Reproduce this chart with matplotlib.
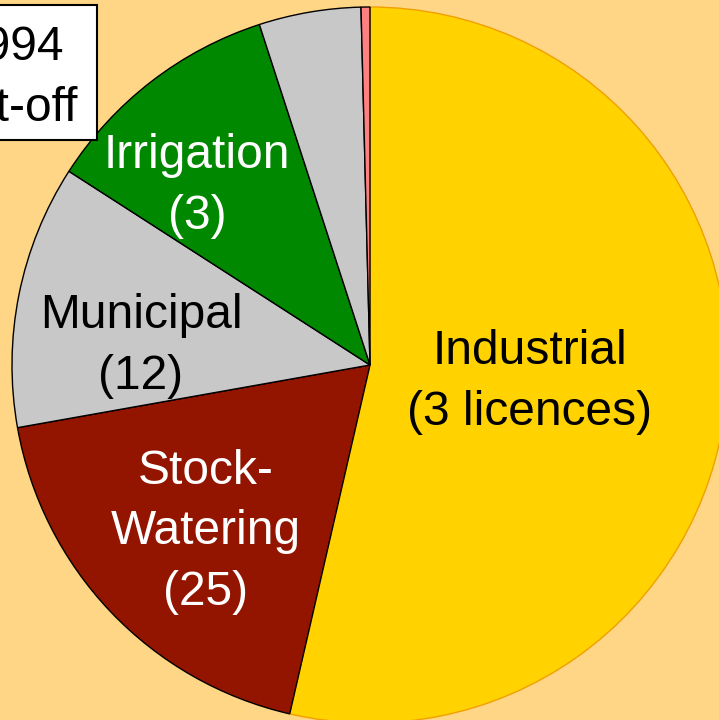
import matplotlib.pyplot as plt
from matplotlib.patches import Rectangle

plt.rcParams['font.family'] = ['Liberation Sans', 'DejaVu Sans']

# share of allocated volume (percent), clockwise from 12 o'clock
categories = ['Industrial', 'Stock-Watering', 'Municipal', 'Irrigation', 'Other', 'Minor']
shares = [53.6, 18.6, 11.9, 10.9, 4.6, 0.4]
labels = ['Industrial\n(3 licences)', 'Stock-\nWatering\n(25)', 'Municipal\n(12)',
          'Irrigation\n(3)', '', '']
colors = ['#FFD200', '#931500', '#C8C8C8', '#008800', '#C8C8C8', '#FF8080']
text_colors = ['black', 'white', 'black', 'white', 'black', 'black']
label_pos = [(530, 338), (206, 188), (141, 374), (197, 534), None, None]

bg = '#FFD685'
fig = plt.figure(figsize=(7.19, 7.2), dpi=100, facecolor=bg)
ax = fig.add_axes([0, 0, 1, 1])
ax.set_facecolor(bg)

wedges, _ = ax.pie(shares, colors=colors, startangle=90, counterclock=False,
                   center=(370, 355), radius=358, frame=True,
                   wedgeprops=dict(edgecolor='black', linewidth=1))
wedges[0].set_edgecolor('#F0A000')

for lab, pos, tc in zip(labels, label_pos, text_colors):
    if pos is None:
        continue
    ax.text(pos[0], pos[1], lab, ha='center', va='center', fontsize=34.5,
            color=tc, linespacing=1.43)

# cut-off note box, partly outside the figure like the original
ax.add_patch(Rectangle((-20, 580), 117, 135, facecolor='white',
                       edgecolor='black', linewidth=1.5, zorder=3))
ax.text(11, 642, '1994\ncut-off', ha='center', va='center', fontsize=34.5,
        linespacing=1.43, zorder=4)

ax.set_xlim(0, 719)
ax.set_ylim(0, 720)
ax.set_aspect('equal')
ax.axis('off')

fig.savefig('out.png', dpi=100, facecolor=bg)
